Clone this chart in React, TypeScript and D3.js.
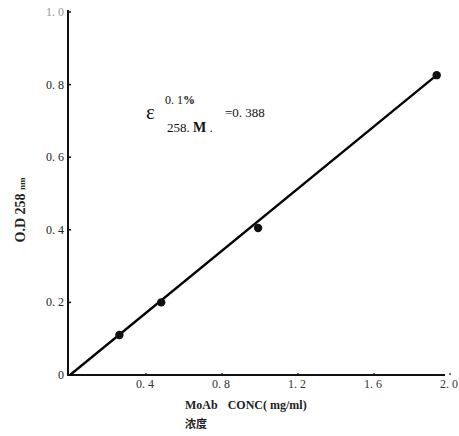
import React from "react";
import * as d3 from "d3";

const concX = [0.26, 0.48, 0.99, 1.93];
const odY = [0.11, 0.2, 0.405, 0.826];
const fitLine = [[0, 0], [1.93, 0.826]];
const xTicks = [0.4, 0.8, 1.2, 1.6, 2.0];
const xTickLabels = ["0. 4", "0. 8", "1. 2", "1. 6", "2. 0"];
const yTicks = [0, 0.2, 0.4, 0.6, 0.8, 1.0];
const yTickLabels = ["0", "0. 2", "0. 4", "0. 6", "0. 8", "1. 0"];

export default function App() {
  const W = 459, H = 436;
  const x = d3.scaleLinear().domain([0, 2]).range([70, 450]);
  const y = d3.scaleLinear().domain([0, 1]).range([375, 12]);
  const line = d3.line<number[]>().x(d => x(d[0])).y(d => y(d[1]));
  const font = "'Liberation Serif', 'DejaVu Serif', serif";
  return (
    <svg width={W} height={H} style={{ position: "absolute", left: 0, top: 0, background: "#fff" }} fontFamily={font}>
      <rect width={W} height={H} fill="#fff" />
      {/* axes */}
      <line x1={68} x2={68} y1={y(1.0) - 2} y2={y(0) + 1} stroke="#111" strokeWidth={2} />
      <line x1={67} x2={445} y1={y(0)} y2={y(0)} stroke="#111" strokeWidth={2} />
      {yTicks.map((t, i) => (
        <g key={"y" + i}>
          <line x1={68} x2={71} y1={y(t)} y2={y(t)} stroke="#111" strokeWidth={1.5} />
          <text x={64} y={y(t) + 4} textAnchor="end" fontSize={12} fill={i === 5 ? "#999" : "#222"}>
            {yTickLabels[i]}
          </text>
        </g>
      ))}
      {xTicks.map((t, i) => (
        <g key={"x" + i}>
          <line x1={x(t)} x2={x(t)} y1={y(0)} y2={y(0) - 2} stroke="#111" strokeWidth={1.2} />
          <text x={x(t) - 1} y={y(0) + 13} textAnchor="middle" fontSize={12} fill="#333">
            {xTickLabels[i]}
          </text>
        </g>
      ))}
      {/* fit line */}
      <path d={line(fitLine) || ""} stroke="#000" strokeWidth={2.3} fill="none" />
      {concX.map((c, i) => (
        <circle key={"p" + i} cx={x(c)} cy={y(odY[i])} r={4.2} fill="#111" />
      ))}
      {/* annotation */}
      <text x={146} y={119} fontSize={21} fill="#111">ε</text>
      <text x={165} y={104} fontSize={12} fill="#111">0. 1<tspan fontWeight="bold">%</tspan></text>
      <text x={167} y={132} fontSize={13} fill="#111">258. <tspan fontWeight="bold" fontSize={14}>M</tspan> .</text>
      <text x={225} y={117} fontSize={13} fill="#111">=0. 388</text>
      {/* axis titles */}
      <text x={185} y={409} fontSize={12} fontWeight="bold" fill="#222">
        MoAb<tspan dx={10}>CONC( mg/ml)</tspan>
      </text>
      <text x={185} y={428} fontSize={11} fontWeight="bold" fill="#222" fontFamily="'Noto Sans CJK SC', sans-serif">浓度</text>
      <text transform={`translate(25, 210) rotate(-90)`} textAnchor="middle" fontSize={14} fontWeight="bold" fill="#222">
        O.D 258 <tspan fontSize={9}>nm</tspan>
      </text>
    </svg>
  );
}
